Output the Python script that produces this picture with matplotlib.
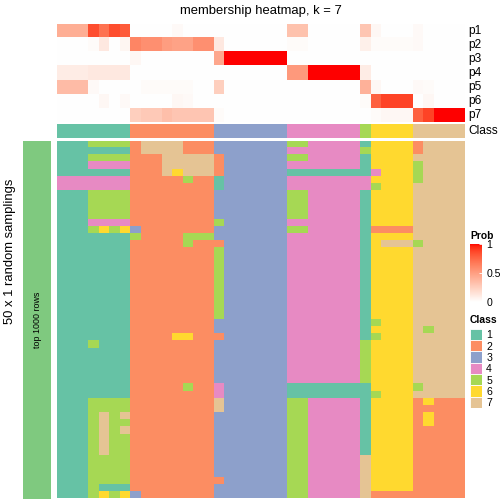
import numpy as np
import matplotlib
matplotlib.use("Agg")
import matplotlib.pyplot as plt
from matplotlib.colors import ListedColormap

plt.rcParams['font.family'] = ['Liberation Sans', 'DejaVu Sans']

# class colours (1..7)
class_colors = ["#66C2A5", "#FC8D62", "#8DA0CB", "#E78AC3", "#A6D854", "#FFD92F", "#E5C494"]
class_labels = ["1", "2", "3", "4", "5", "6", "7"]
prob_labels = ["p1", "p2", "p3", "p4", "p5", "p6", "p7"]

# consensus class of each of the 39 columns
col_class = "111111122222222333333344444445666677777"

# membership probabilities per column
p1 = [0.42, 0.42, 0.42, 0.85, 0.7, 0.85, 0.8, 0, 0, 0, 0, 0.03, 0, 0, 0,
      0, 0, 0, 0, 0, 0, 0, 0.32, 0.32, 0, 0, 0, 0, 0, 0.3, 0.04, 0, 0, 0, 0.03, 0, 0, 0, 0]
p2 = [0, 0, 0, 0.02, 0.12, 0, 0.05, 0.62, 0.57, 0.57, 0.5, 0.48, 0.48, 0.57, 0.57,
      0.12, 0, 0, 0, 0, 0, 0, 0.02, 0.02, 0, 0, 0, 0, 0, 0.08, 0.02, 0.02, 0.02, 0.02, 0.03, 0, 0, 0, 0]
p3 = [0, 0, 0, 0, 0, 0, 0, 0.04, 0, 0, 0, 0, 0, 0, 0,
      0.45, 1, 1, 1, 1, 1, 1, 0, 0, 0, 0, 0, 0, 0, 0, 0, 0, 0, 0, 0, 0, 0, 0, 0]
p4 = [0.1, 0.1, 0.1, 0.12, 0.12, 0.12, 0.12, 0, 0, 0, 0, 0, 0, 0, 0,
      0, 0, 0, 0, 0, 0, 0, 0.52, 0.52, 1, 1, 1, 1, 1, 0.1, 0, 0, 0, 0, 0, 0, 0, 0, 0]
p5 = [0.35, 0.35, 0.35, 0.03, 0, 0, 0, 0, 0.02, 0.02, 0.02, 0.02, 0.02, 0, 0,
      0.25, 0, 0, 0, 0, 0, 0, 0, 0, 0, 0, 0, 0, 0, 0.4, 0.04, 0, 0, 0, 0.03, 0.02, 0, 0, 0]
p6 = [0, 0, 0, 0, 0.04, 0, 0.03, 0, 0, 0, 0, 0.04, 0.03, 0, 0,
      0, 0, 0, 0, 0, 0, 0, 0, 0, 0, 0, 0, 0, 0, 0.02, 0.78, 0.88, 0.88, 0.88, 0, 0.04, 0, 0, 0]
p7 = [0, 0, 0, 0, 0, 0, 0, 0.25, 0.28, 0.28, 0.33, 0.3, 0.3, 0.3, 0.3,
      0.02, 0, 0, 0, 0, 0, 0, 0, 0, 0, 0, 0, 0, 0, 0, 0.02, 0.04, 0.04, 0.04, 0.78, 0.88, 1, 1, 1]

# class assigned in each of the 50 random samplings (rows) for each column
samplings = [
    "1115555 27777222 3333333 5544444 1 6666 27777",
    "1111111 27777222 3333333 4444444 5 6666 27777",
    "1115555 22277777 2333333 5544444 1 6666 77777",
    "1114444 22277777 2333333 4444444 1 6666 57777",
    "1111111 22276777 2333333 1111111 1 4666 57777",
    "4444444 22222522 1333333 4444444 4 6666 57777",
    "4444444 22222222 1333333 4444444 4 5666 77777",
    "1115555 22222222 3333333 5544444 1 6666 77777",
    "1115555 22222222 3333333 5544444 1 6666 77777",
    "1115555 22222222 3333333 5544444 1 6666 77777",
    "1115555 22222222 3333333 5544444 1 6666 77777",
    "1114444 22222222 5333333 4444444 1 6666 77777",
    "1115656 32222222 3333333 5544444 1 2222 77777",
    "1111111 52222555 3333333 4444444 1 6666 77777",
    "1111111 22222522 2333333 4444444 1 6777 57777",
    "1111111 22222222 5333333 4444444 1 6666 77777",
    "1111111 22222222 5333333 4444444 1 6666 77777",
    "1111111 22222222 5333333 4444444 1 6666 77777",
    "1111111 22222222 5333333 4444444 1 6666 77777",
    "1111111 22222222 5333333 4444444 1 6666 77777",
    "1111111 22222222 5333333 4444444 1 6666 77777",
    "1111111 22222222 5333333 4444444 1 6666 77777",
    "1111111 22222222 5333333 4444444 1 6666 77777",
    "1111111 22222222 5333333 4444444 1 6666 77777",
    "1111111 22222222 5333333 4444444 1 6666 77777",
    "1111111 22222222 3333333 4444444 1 5666 77777",
    "1111111 22222222 3333333 4444444 1 6666 75777",
    "1111111 22226622 2333333 4444444 1 5666 77777",
    "1115111 22222222 3333333 4444444 5 6666 77777",
    "1111111 22222222 3333333 4444444 5 6666 77777",
    "1111111 22222222 3333333 4444444 5 6666 77777",
    "1111111 22222222 3333333 4444444 5 6666 77777",
    "1111111 22222222 3333333 4444444 5 6666 77777",
    "1111111 22222222 3333333 4444444 5 6666 77777",
    "1111111 22222522 4333333 1111111 1 6666 57777",
    "1111111 22222222 4333333 1111111 1 5666 77777",
    "1115555 22222222 7333333 5544444 1 6666 26222",
    "1115555 22222222 7333333 5544444 1 6666 22222",
    "1115757 22222222 3333333 5544444 1 6666 26222",
    "1115755 22222222 3333333 5544444 1 6666 26222",
    "1115757 22222222 3333333 5544444 1 6666 22222",
    "1115755 22222222 3333333 5544444 1 6666 22222",
    "1115755 22222222 3333333 5544444 1 6666 22222",
    "1115755 22222222 3333333 5544444 1 6666 22222",
    "1115555 22222222 3333333 5544444 7 6666 22222",
    "1115555 22222222 3333333 5544444 7 6666 22222",
    "1115555 22222222 3333333 5544444 7 6666 22222",
    "1115555 22222222 2333333 5544444 7 6666 22222",
    "1115111 22222222 3333333 5544444 7 6666 22222",
    "1115656 32222222 3333333 5544444 7 2222 22222",
]


def lab_white_red(n=256):
    # white -> red interpolated in CIELAB, like colorRamp2
    t = np.linspace(0, 1, n)
    L = 100 + (53.24 - 100) * t
    a = 80.09 * t
    b = 67.20 * t
    fy = (L + 16) / 116
    fx = fy + a / 500
    fz = fy - b / 200
    finv = lambda v: np.where(v > 6 / 29, v ** 3, 3 * (6 / 29) ** 2 * (v - 4 / 29))
    xyz = np.stack([0.95047 * finv(fx), finv(fy), 1.08883 * finv(fz)])
    M = np.array([[3.2406, -1.5372, -0.4986],
                  [-0.9689, 1.8758, 0.0415],
                  [0.0557, -0.2040, 1.0570]])
    rgb = np.clip(M @ xyz, 0, 1)
    rgb = np.where(rgb <= 0.0031308, 12.92 * rgb, 1.055 * rgb ** (1 / 2.4) - 0.055)
    return ListedColormap(np.clip(rgb, 0, 1).T)


prob_cmap = lab_white_red()
class_cmap = ListedColormap(class_colors)

W = H = 504
fig = plt.figure(figsize=(W / 100, H / 100), dpi=100)


def px_axes(x0, y0, x1, y1):
    return fig.add_axes([x0 / W, 1 - y1 / H, (x1 - x0) / W, (y1 - y0) / H])


prob = np.array([p1, p2, p3, p4, p5, p6, p7])
cls_top = np.array([[int(c) - 1 for c in col_class]])
mat = np.array([[int(c) - 1 for c in r.replace(" ", "")] for r in samplings])

ax_p = px_axes(57, 24, 465, 122.5)
ax_p.imshow(prob, cmap=prob_cmap, vmin=0, vmax=1, aspect='auto', interpolation='nearest')
ax_p.set_axis_off()
for i, lab in enumerate(prob_labels):
    ax_p.text(1.008, 1 - (i + 0.5) / 7, lab, transform=ax_p.transAxes,
              ha='left', va='center', fontsize=8.6)

ax_c = px_axes(57, 124, 465, 138)
ax_c.imshow(cls_top, cmap=class_cmap, vmin=-0.5, vmax=6.5, aspect='auto', interpolation='nearest')
ax_c.set_axis_off()
ax_c.text(1.008, 0.5, "Class", transform=ax_c.transAxes, ha='left', va='center', fontsize=8.6)

ax_m = px_axes(57, 141, 465, 498.5)
ax_m.imshow(mat, cmap=class_cmap, vmin=-0.5, vmax=6.5, aspect='auto', interpolation='nearest')
ax_m.set_axis_off()

ax_s = px_axes(23, 141, 51, 498.5)
ax_s.set_facecolor("#7FC97F")
ax_s.set_xticks([]); ax_s.set_yticks([])
for sp in ax_s.spines.values():
    sp.set_visible(False)
ax_s.text(0.5, 0.5, "top 1000 rows", transform=ax_s.transAxes, rotation=90,
          ha='center', va='center', fontsize=6.4)

fig.text(261 / W, 1 - 11 / H, "membership heatmap, k = 7", ha='center', va='center', fontsize=9.4)
fig.text(10 / W, 1 - 251 / H, "50 x 1 random samplings", rotation=90,
         ha='center', va='center', fontsize=9.4)

# Prob legend
fig.text(470 / W, 1 - 236 / H, "Prob", ha='left', va='center', fontsize=7.4, fontweight='bold')
cax = px_axes(470, 244, 482, 302)
sm = plt.cm.ScalarMappable(cmap=prob_cmap, norm=plt.Normalize(0, 1))
cb = fig.colorbar(sm, cax=cax, ticks=[0, 0.5, 1])
cb.outline.set_visible(False)
cb.ax.set_yticklabels(["0", "0.5", "1"])
cb.ax.tick_params(direction='in', length=2, width=0.6, color='white', pad=3, labelsize=7.6)

# Class legend
fig.text(470 / W, 1 - 320 / H, "Class", ha='left', va='center', fontsize=7.4, fontweight='bold')
ax_l = px_axes(470, 328.5, 482, 408)
ypos = np.arange(1, len(class_labels) + 1)
ax_l.barh(ypos, 1, height=1, color=class_colors, edgecolor='white', linewidth=0.6)
ax_l.set_xlim(0, 1)
ax_l.set_ylim(len(class_labels) + 0.5, 0.5)
ax_l.set_xticks([])
ax_l.set_yticks(ypos)
ax_l.set_yticklabels(class_labels)
ax_l.yaxis.tick_right()
ax_l.tick_params(axis='y', length=0, pad=3, labelsize=7.6)
for sp in ax_l.spines.values():
    sp.set_visible(False)

fig.savefig("out.png", dpi=100)
